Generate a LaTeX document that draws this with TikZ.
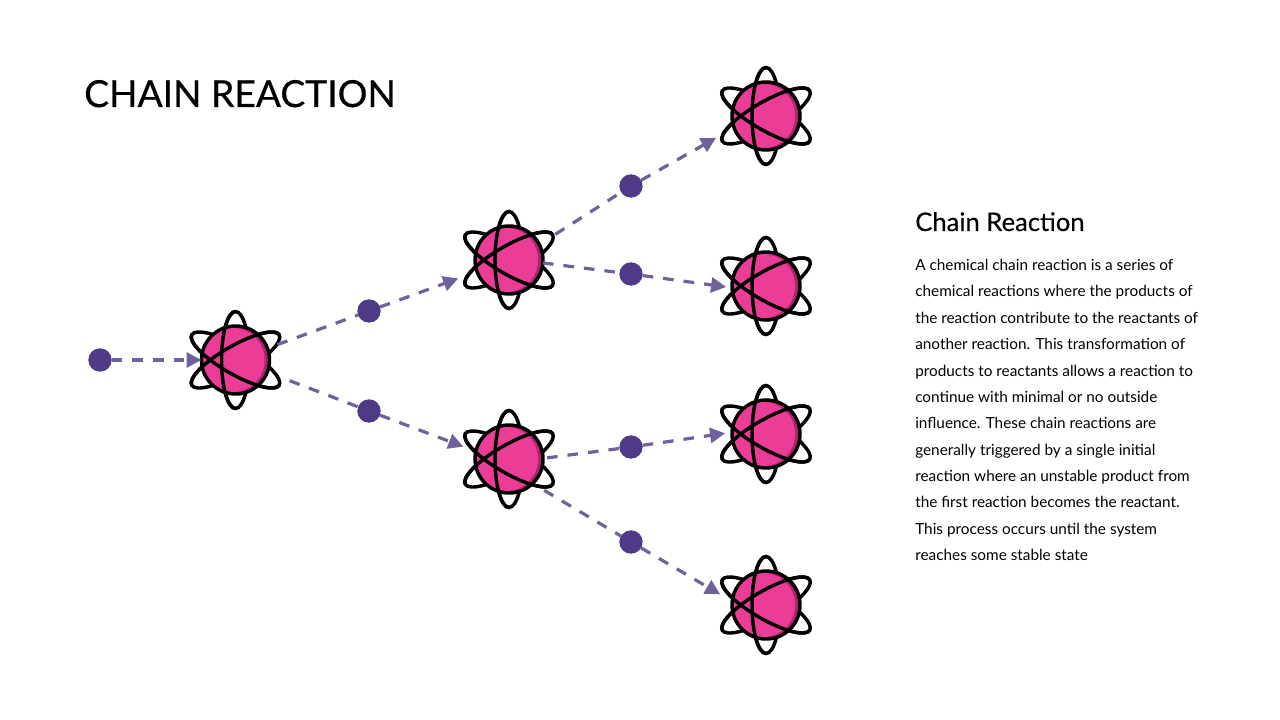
\documentclass[tikz,border=0pt]{standalone}
\usepackage{fontspec}
\setmainfont{Lato}
\usepackage{xcolor}
\usetikzlibrary{arrows.meta, positioning, calc}
\definecolor{atom-pink}{RGB}{236, 61, 150}
\definecolor{atom-dark}{RGB}{176, 36, 110}
\definecolor{dot-purple}{RGB}{79, 58, 135}
\definecolor{link-purple}{RGB}{112, 96, 155}
\begin{document}
\begin{tikzpicture}[
        x=0.75pt, y=0.75pt,
        core/.style={circle, draw=black, line width=2.6pt, fill=atom-dark,
                     minimum size=51pt, inner sep=0pt, outer sep=0pt,
                     path picture={\fill[atom-pink] ([xshift=-2.2pt]path picture bounding box.center) circle (24pt);}},
        orbit/.style={draw=black, line width=2.6pt},
        dot/.style={circle, fill=dot-purple, minimum size=17.5pt, inner sep=0pt, outer sep=0pt},
        arr/.style={-{Triangle[length=11.25pt, width=11.25pt]}, dashed, dash pattern=on 8pt off 7.5pt,
                    line width=2.4pt, color=link-purple},
        lnk/.style={dashed, dash pattern=on 8pt off 7.5pt, line width=2.4pt, color=link-purple}
      ]
        \useasboundingbox (0,0) rectangle (1280,-720);
        \foreach \name/\x/\y in {a1/235.5/360, a2/509/260, a3/509/459, a4/766/116, a5/766/286, a6/766/434, a7/766/605} {
          \foreach \r/\h in {-60/50.5, 0/48.5, 60/50.5}
            \draw[orbit, rotate around={\r:(\x,-\y)}] (\x,-\y) ellipse (14 and \h);
          \node[core] (\name) at (\x,-\y) {};
          \foreach \r/\h in {-60/50.5, 0/48.5, 60/50.5}
            \draw[orbit, rotate around={\r:(\x,-\y)}] (\x,-\y+\h) arc[x radius=14, y radius=\h, start angle=90, delta angle=180];
        }
        \foreach \name/\x/\y in {d0/100/360, d1/369/311, d2/369/411, d3/631/186, d4/631/274, d5/631/447, d6/631/542}
          \node[dot] (\name) at (\x,-\y) {};
        \draw[arr] (d0) -- (a1);
        \draw[lnk, shorten <=8pt] (a1) -- (d1);
        \draw[arr, shorten >=15pt] (d1) -- (a2);
        \draw[lnk, shorten <=18pt] (a1) -- (d2);
        \draw[arr, shorten >=10pt] (d2) -- (a3.167);
        \draw[lnk, shorten <=14.3pt] (a2.27) -- (d3);
        \draw[arr, shorten >=15.5pt] (d3) -- (a4.200);
        \draw[lnk] (a2.-5) -- (d4);
        \draw[arr, shorten >=4.5pt] (d4) -- (a5.183);
        \draw[lnk, shorten <=3pt] (a3.1) -- (d5);
        \draw[arr, shorten >=5.3pt] (d5) -- (a6.177);
        \draw[lnk, shorten <=10pt] (a3.-46) -- (d6);
        \draw[arr, shorten >=10.4pt] (d6) -- (a7.174);
        \node[anchor=base west, inner sep=0pt, font=\fontsize{27.9pt}{32pt}\selectfont\addfontfeature{FakeBold=0.5}] (title) at (84,-107) {CHAIN REACTION};
        \node[anchor=base west, inner sep=0pt, font=\fontsize{19.2pt}{22pt}\selectfont\addfontfeature{FakeBold=0.3}] (head) at (915,-231) {Chain Reaction};
        \node[anchor=north west, inner sep=0pt, align=left, font=\fontsize{11.5pt}{19.77pt}\selectfont] (body) at (915,-259) {A chemical chain reaction is a series of\\
chemical reactions where the products of\\
the reaction contribute to the reactants of\\
another reaction. This transformation of\\
products to reactants allows a reaction to\\
continue with minimal or no outside\\
influence. These chain reactions are\\
generally triggered by a single initial\\
reaction where an unstable product from\\
the first reaction becomes the reactant.\\
This process occurs until the system\\
reaches some stable state};
      \end{tikzpicture}
\end{document}
